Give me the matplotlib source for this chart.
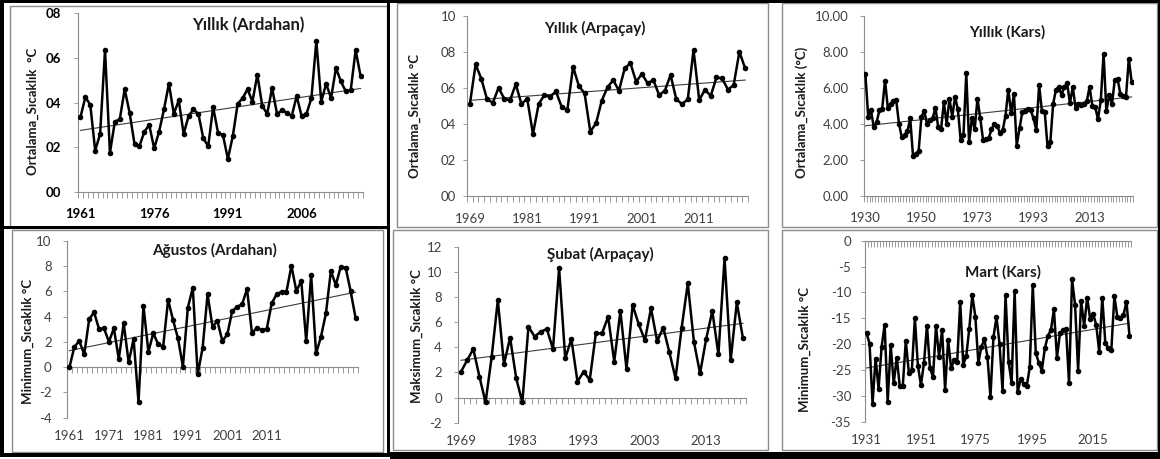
import numpy as np
import matplotlib
matplotlib.use("Agg")
import matplotlib.pyplot as plt
from matplotlib.patches import Rectangle

W, H = 1160, 459

# Yillik (Ardahan) 1961-2018
ard_yil = [3.35, 4.25, 3.9, 1.85, 2.6, 6.35, 1.75, 3.15, 3.25, 4.6,
           3.55, 2.15, 2.05, 2.7, 3.0, 1.95, 2.7, 3.7, 4.85, 3.5,
           4.1, 2.6, 3.4, 3.7, 3.5, 2.4, 2.05, 3.8, 2.65, 2.55,
           1.48, 2.5, 3.95, 4.2, 4.6, 4.05, 5.25, 3.85, 3.5, 4.65,
           3.5, 3.65, 3.55, 3.4, 4.3, 3.4, 3.5, 4.2, 6.75, 4.05,
           4.85, 4.2, 5.55, 4.95, 4.5, 4.55, 6.35, 5.2]
ard_yil_lab = ["1961", "1976", "1991", "2006"]
ard_yil_pos = [0, 15, 30, 45]

# Yillik (Arpacay)
arp_yil = [5.1, 7.3, 6.5, 5.36, 5.17, 6.0, 5.4, 5.3, 6.2, 5.1,
           5.4, 3.44, 5.1, 5.6, 5.5, 5.8, 4.95, 4.77, 7.17, 6.1,
           5.7, 3.57, 4.03, 5.29, 6.03, 6.43, 5.84, 7.08, 7.36, 6.34,
           6.77, 6.25, 6.43, 5.6, 5.84, 6.71, 5.36, 5.1, 5.36, 8.1,
           5.32, 5.9, 5.55, 6.58, 6.52, 5.9, 6.15, 8.0, 7.08]
arp_yil_lab = ["1969", "1981", "1991", "2001", "2011"]
arp_yil_pos = [0, 10, 20, 30, 40]

# Yillik (Kars)
kars_yil = [6.75, 4.4, 4.75, 3.8, 4.1, 4.75, 4.85, 6.4,
            4.9, 5.1, 5.25, 5.3, 4.0, 3.25, 3.4, 3.6, 4.3,
            2.2,
            2.35, 2.5, 4.4, 4.7, 4.0, 4.2, 4.3, 4.9, 3.8, 3.7, 5.2, 4.0, 5.4, 4.4, 5.5, 4.8, 3.1, 3.4,
            6.8,
            3.0, 4.3, 3.7, 5.4, 4.3, 3.1, 3.15, 3.2, 3.7, 4.0, 3.9, 3.5, 3.65, 4.45,
            5.9, 4.6, 5.65,
            2.8,
            3.75, 4.65, 4.7, 4.8, 4.75, 4.3, 3.65,
            6.15, 4.7, 4.65,
            2.75,
            3.0, 5.1, 5.9, 6.05, 5.6, 6.05, 6.25, 5.15, 6.05, 4.9,
            5.1, 5.05, 5.1, 5.25, 6.05, 5.0, 4.95, 4.25, 5.3,
            7.9,
            4.7, 5.6, 5.1, 6.45, 6.5, 5.65, 5.55, 5.5,
            7.6, 6.35]
kars_yil_lab = ["1930", "1950", "1973", "1993", "2013"]
kars_yil_pos = [0, 20, 40, 60, 80]

# Agustos (Ardahan) minimum
ard_agu = [0.0, 1.63, 2.07, 1.02, 3.82, 4.34, 3.02, 3.08, 2.02, 3.08,
           0.65, 3.48, 0.38, 2.23, -2.75, 4.87, 1.23, 2.69, 1.81, 1.63,
           5.33, 3.74, 2.29, 0.04, 4.71, 6.3, -0.56, 1.55, 5.78, 3.21,
           3.66, 2.07, 2.6, 4.45, 4.79, 4.98, 6.2, 2.69, 3.13, 2.95,
           3.02, 5.06, 5.78, 5.98, 5.98, 8.04, 6.04, 6.83, 2.07, 7.3,
           1.1, 2.42, 4.27, 7.62, 6.51, 7.96, 7.88, 6.04, 3.92]
ard_agu_lab = ["1961", "1971", "1981", "1991", "2001", "2011"]
ard_agu_pos = [0, 8, 16, 24, 32, 40]

# Subat (Arpacay) maksimum
arp_sub = [2.06, 2.98, 3.86, 1.66, -0.38, 3.25, 7.75, 2.64, 4.77, 1.53,
           -0.38, 5.64, 4.85, 5.24, 5.45, 3.86, 10.28, 3.12, 4.66, 1.26,
           2.06, 1.4, 5.1, 5.1, 6.43, 2.85, 6.88, 2.27, 7.36, 5.82,
           4.57, 7.09, 4.49, 5.56, 3.6, 1.53, 5.56, 9.08, 4.44, 1.92,
           4.66, 6.88, 3.44, 11.07, 2.98, 7.57, 4.71]
arp_sub_lab = ["1969", "1983", "1993", "2003", "2013"]
arp_sub_pos = [0, 10, 20, 30, 40]

# Mart (Kars) minimum
kars_mart = [-17.8, -19.9, -31.5, -22.8, -28.6, -20.5, -16.3, -31.1, -20.2, -27.6,
             -22.6, -28.1, -28.1, -19.3, -25.5, -25.0, -15.0, -24.2, -27.9, -23.7,
             -16.4, -24.7, -26.3, -16.5, -22.4, -17.3, -28.8, -19.2, -24.7, -23.1,
             -23.4, -11.8, -24.0, -22.3, -17.0, -10.5, -14.7, -23.6, -20.5, -19.1,
             -22.4, -30.2, -18.6, -14.8, -19.9, -29.0, -10.5, -23.4, -27.5, -9.7,
             -29.2, -26.8, -27.7, -28.1, -24.5, -8.6, -21.7, -23.6, -25.1, -20.8,
             -18.4, -17.3, -13.3, -22.6, -17.9, -17.3, -17.0, -27.5, -7.5, -12.4,
             -25.1, -11.6, -16.5, -11.0, -15.2, -14.2, -16.3, -21.5, -11.0, -19.7,
             -20.8, -21.1, -10.7, -14.8, -15.0, -14.4, -11.8, -18.4]
kars_mart_lab = ["1931", "1951", "1975", "1995", "2015"]
kars_mart_pos = [0, 18, 36, 55, 75]

plt.rcParams['font.family'] = ['Lato', 'DejaVu Sans']

fig = plt.figure(figsize=(W / 100, H / 100), dpi=100)
GREY = '#8c8c8c'


def fx(x):
    return x / W


def fy(y):
    return 1 - y / H


def frame(x0, y0, x1, y1, color=GREY, lw=1.0, fill=False):
    fig.add_artist(Rectangle((fx(x0), fy(y1)), fx(x1) - fx(x0), fy(y0) - fy(y1),
                             transform=fig.transFigure, fill=fill,
                             fc=color, ec=color, lw=0 if fill else lw))


def panel(rect, vals, ylim, ystep, ylabfmt, xpos, xlabs, title, txy, tsize,
          ylab, lxy, xpad, ypad, bold=False):
    x0, y0, x1, y1 = rect
    ax = fig.add_axes([fx(x0), fy(y1), fx(x1) - fx(x0), fy(y0) - fy(y1)])
    ax.patch.set_alpha(0)
    n = len(vals)
    idx = np.arange(n)
    ax.plot(idx, vals, color='black', lw=1.8, marker='o', ms=3, zorder=3)
    k, b = np.polyfit(idx, vals, 1)
    ax.plot(idx, k * idx + b, color='#3c3c3c', lw=0.8, zorder=2)
    ax.set_xlim(-0.5, n - 0.5)
    ax.set_ylim(*ylim)
    for s in ('top', 'right'):
        ax.spines[s].set_visible(False)
    for s in ('left', 'bottom'):
        ax.spines[s].set_color(GREY)
        ax.spines[s].set_linewidth(0.8)
    cross = 0 if ylim[0] < 0 else ylim[0]
    ax.spines['bottom'].set_position(('data', cross))
    ax.set_xticks([])
    ax.set_xticks(np.arange(n + 1) - 0.5, minor=True)
    ax.tick_params(axis='x', which='minor', length=4, width=0.6, color=GREY, direction='out')
    yt = np.arange(ylim[0], ylim[1] + 0.01, ystep)
    ax.set_yticks(yt, [ylabfmt(v) for v in yt])
    weight = 'bold' if bold else 'normal'
    tcol = 'black' if bold else '#404040'
    ax.tick_params(axis='y', length=3, width=0.6, color=GREY, labelsize=9.5,
                   labelcolor=tcol, pad=ypad)
    for t in ax.get_yticklabels():
        t.set_fontweight(weight)
    sec = ax.secondary_xaxis('bottom')
    sec.set_xticks(xpos, xlabs)
    sec.tick_params(length=0, pad=xpad, labelsize=9.5, labelcolor=tcol)
    sec.spines['bottom'].set_visible(False)
    for t in sec.get_xticklabels():
        t.set_fontweight(weight)
    fig.text(fx(txy[0]), fy(txy[1]), title, ha='center', va='center',
             fontsize=tsize, fontweight='bold', color='#1a1a1a')
    fig.text(fx(lxy[0]), fy(lxy[1]), ylab, ha='center', va='center', rotation=90,
             fontsize=9.5, fontweight='bold', color='#1a1a1a')
    return ax


def two_digit(v):
    return "%02d" % int(round(v))


def two_dec(v):
    return "%.2f" % v


def plain(v):
    return "%d" % int(round(v))


panel((78, 13.3, 363, 192), ard_yil, (0, 8), 2, two_digit, ard_yil_pos, ard_yil_lab,
      "Yıllık (Ardahan)", (248, 25), 12, "Ortalama_Sıcaklık  °C", (33, 111),
      11.5, 9, bold=True)
panel((467, 15.7, 748, 196), arp_yil, (0, 10), 2, two_digit, arp_yil_pos, arp_yil_lab,
      "Yıllık (Arpaçay)", (595, 28), 11, "Ortalama_Sıcaklık °C", (415, 116),
      12, 5)
panel((864, 15.7, 1133, 196), kars_yil, (0, 10), 2, two_dec, kars_yil_pos, kars_yil_lab,
      "Yıllık (Kars)", (1007, 32), 11, "Ortalama_Sıcaklık (°C)", (802, 112),
      11.5, 8)
panel((67, 241, 358, 417.7), ard_agu, (-4, 10), 2, plain, ard_agu_pos, ard_agu_lab,
      "Ağustos (Ardahan)", (215, 250), 11, "Minimum_Sıcaklık °C", (28, 341),
      9, 8)
panel((458, 246.7, 746, 422.7), arp_sub, (-2, 12), 2, plain, arp_sub_pos, arp_sub_lab,
      "Şubat (Arpaçay)", (600, 254), 11, "Maksimum_Sıcaklık °C", (417, 336),
      8.5, 8.5)
panel((865, 240.7, 1131, 421.7), kars_mart, (-35, 0), 5, plain, kars_mart_pos, kars_mart_lab,
      "Mart (Kars)", (1003, 272), 11, "Minimum_Sıcaklık °C", (805, 349),
      8.5, 7)

# grey chart-area borders
frame(10, 6, 387, 228)
frame(397, 3, 768, 227)
frame(782, 3, 1157, 227)
frame(12, 230, 383, 452)
frame(393, 230, 768, 450)
frame(782, 230, 1157, 450)

# black outer borders of the screenshot
frame(0, 0, 1160, 2.5, color='black', fill=True)
frame(0, 0, 4, 457, color='black', fill=True)
frame(387, 0, 390, 457, color='black', fill=True)
frame(4, 226, 390, 229, color='black', fill=True)
frame(0, 453, 390, 457, color='black', fill=True)
frame(390, 452, 1160, 459, color='black', fill=True)
frame(1158, 0, 1160, 459, color='black', fill=True)

fig.savefig("out.png", dpi=100)
